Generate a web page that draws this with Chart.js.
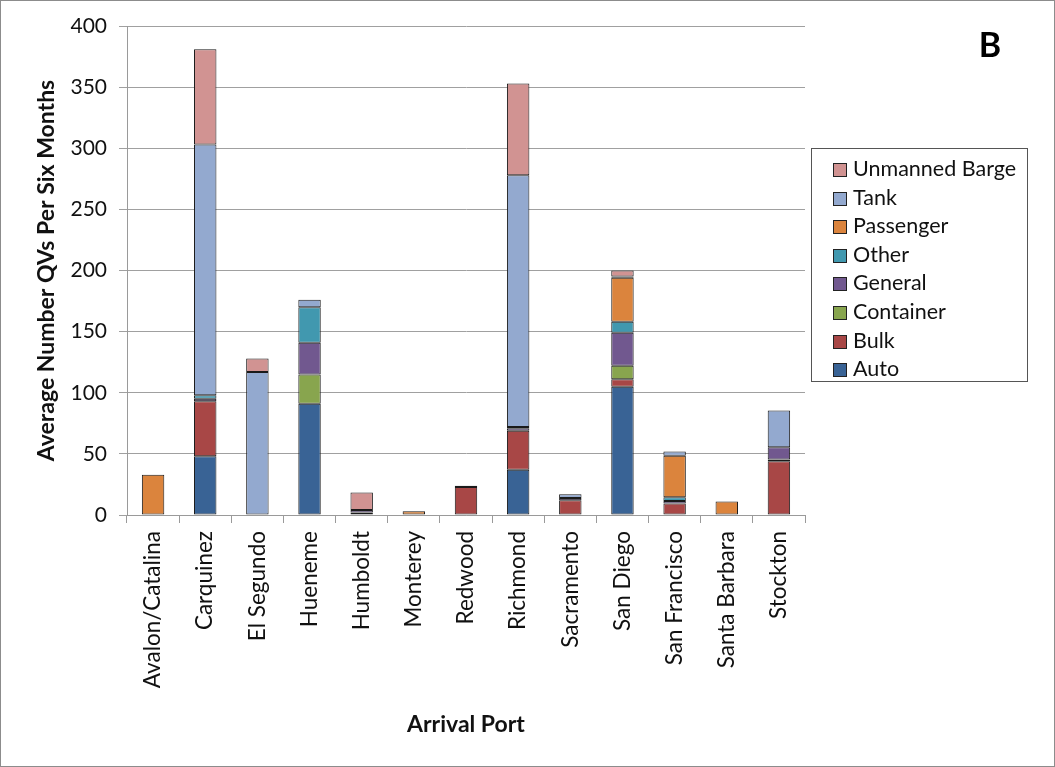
<!DOCTYPE html>
<html>
<head>
<meta charset="utf-8">
<script src="https://cdn.jsdelivr.net/npm/chart.js@4.4.0/dist/chart.umd.min.js"></script>
<style>
  html, body { margin: 0; padding: 0; background: #fff; }
  #wrap { position: relative; width: 1055px; height: 767px; }
  #legend {
    position: absolute; left: 811px; top: 148px; width: 217px; height: 234px;
    border: 1px solid #555; box-sizing: border-box; padding: 5px 0 0 21px;
    font-family: Lato, sans-serif; font-size: 21.5px; color: #111;
  }
  #legend div { height: 28.6px; line-height: 28px; white-space: nowrap; }
  #legend span.sw {
    display: inline-block; width: 12px; height: 12px; border: 1px solid #222;
    margin-right: 6px; vertical-align: -1px;
  }
</style>
</head>
<body>
<div id="wrap">
  <canvas id="chart" width="1055" height="767"></canvas>
  <div id="legend"></div>
</div>
<script>
'use strict';

const ports = ['Avalon/Catalina', 'Carquinez', 'El Segundo', 'Hueneme', 'Humboldt', 'Monterey',
  'Redwood', 'Richmond', 'Sacramento', 'San Diego', 'San Francisco', 'Santa Barbara', 'Stockton'];

// stacked bottom to top
const auto      = [0, 48, 0, 91, 0, 0, 0, 37, 0, 105, 0, 0, 0];
const bulk      = [0, 45, 0, 0, 2, 0, 23, 32, 12, 6, 9.5, 0, 44];
const container = [0, 0, 0, 24, 0, 0, 0, 0, 0, 11, 0, 0, 1.5];
const general   = [0, 2, 0, 26, 2, 0, 1, 2, 2, 27, 2, 0, 10];
const other     = [0, 3, 0, 29, 0, 0, 0, 1, 0, 9, 3, 0, 0];
const passenger = [33, 0, 0, 0, 0, 3, 0, 0, 0, 36, 34, 11, 0];
const tank      = [0, 205, 117, 6, 0, 0, 0, 206, 3, 1, 3.5, 0, 30];
const barge     = [0, 78, 11, 0, 14.5, 0, 0, 75, 0, 5, 0, 0, 0];

const seriesNames = ['Auto', 'Bulk', 'Container', 'General', 'Other', 'Passenger', 'Tank', 'Unmanned Barge'];
const seriesData = [auto, bulk, container, general, other, passenger, tank, barge];
const seriesColors = ['#396395', '#a84746', '#88a54e', '#71588f', '#4198af', '#db843d', '#93a9cf', '#d19392'];

const yTicks = [0, 50, 100, 150, 200, 250, 300, 350, 400];

const FONT = 'Lato, sans-serif';

// legend, top entry is the last series
const legendEl = document.getElementById('legend');
for (let i = seriesNames.length - 1; i >= 0; i--) {
  const row = document.createElement('div');
  row.innerHTML = `<span class="sw" style="background:${seriesColors[i]}"></span>${seriesNames[i]}`;
  legendEl.appendChild(row);
}

const decorations = {
  id: 'decorations',
  afterDraw(chart) {
    const ctx = chart.ctx;
    const area = chart.chartArea;
    ctx.save();
    ctx.fillStyle = '#111';
    ctx.font = 'bold 23px ' + FONT;
    ctx.textAlign = 'center';
    ctx.textBaseline = 'middle';
    ctx.fillText('Arrival Port', (area.left + area.right) / 2, 725);
    ctx.translate(47, (area.top + area.bottom) / 2);
    ctx.rotate(-Math.PI / 2);
    ctx.fillText('Average Number QVs Per Six Months', 0, 0);
    ctx.restore();

    ctx.save();
    ctx.fillStyle = '#000';
    ctx.font = 'bold 34px ' + FONT;
    ctx.textAlign = 'center';
    ctx.textBaseline = 'middle';
    ctx.fillText('B', 990, 46);
    ctx.strokeStyle = '#8c8c8c';
    ctx.lineWidth = 1;
    ctx.strokeRect(0.5, 0.5, chart.width - 1, chart.height - 1);
    ctx.restore();
  }
};

new Chart(document.getElementById('chart').getContext('2d'), {
  type: 'bar',
  data: {
    labels: ports,
    datasets: seriesNames.map((name, i) => ({
      label: name,
      data: seriesData[i],
      backgroundColor: seriesColors[i],
      borderColor: '#1a1a1a',
      borderWidth: 1,
      borderSkipped: false,
      barPercentage: 0.43,
      categoryPercentage: 1
    }))
  },
  options: {
    responsive: false,
    animation: false,
    devicePixelRatio: 1,
    layout: { padding: { left: 0, top: 26, right: 250, bottom: 0 } },
    plugins: {
      legend: { display: false },
      tooltip: { enabled: false }
    },
    scales: {
      x: {
        stacked: true,
        afterFit: s => { s.height = 252; },
        grid: { offset: true, drawOnChartArea: false, color: '#9a9a9a', tickLength: 8 },
        border: { color: '#9a9a9a' },
        ticks: {
          minRotation: 90, maxRotation: 90, padding: 8,
          color: '#111', font: { family: FONT, size: 22.5 }
        }
      },
      y: {
        stacked: true,
        min: 0, max: 400,
        afterFit: s => { s.width = 127; },
        afterBuildTicks: s => { s.ticks = yTicks.map(v => ({ value: v })); },
        grid: { color: '#a0a0a0', tickLength: 8 },
        border: { color: '#9a9a9a' },
        ticks: {
          padding: 12,
          color: '#111', font: { family: FONT, size: 21 }
        }
      }
    }
  },
  plugins: [decorations]
});
</script>
</body>
</html>
